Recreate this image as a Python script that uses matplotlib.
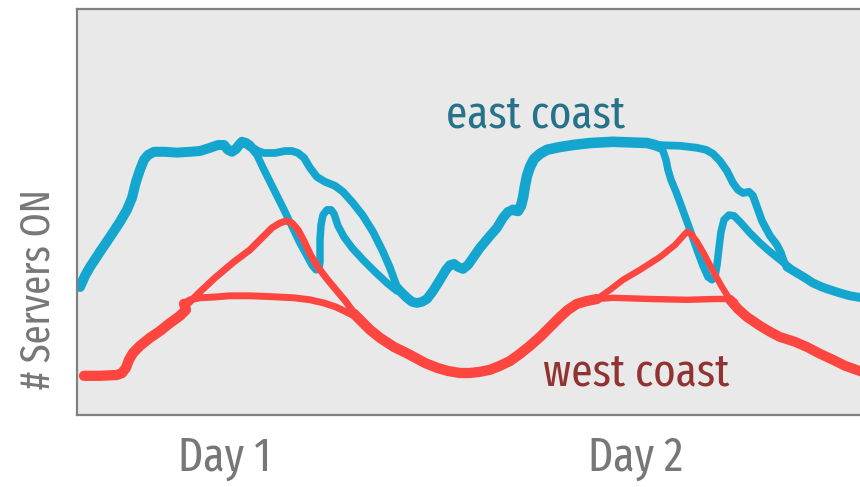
import matplotlib
matplotlib.use('Agg')
import matplotlib.pyplot as plt

# time axis in arbitrary units (0 = left edge), servers on a 0-100 scale
# east coast strokes
east_day1_x = [0.3, 0.8, 1.3, 2.3, 3.3, 4.3, 5.0, 5.5, 5.9, 6.3, 6.7, 7.1, 7.7, 8.8, 10.0, 11.3, 12.3,
               13.3, 14.1, 14.7, 15.1, 15.5, 15.9, 16.2, 16.5, 16.9, 17.3]
east_day1_y = [32.0, 34.8, 37.0, 40.8, 44.5, 48.3, 51.3, 54.3, 58.3, 61.3, 63.8, 65.0, 65.8, 65.8, 65.6,
               65.8, 66.0, 66.8, 67.5, 67.5, 66.3, 65.8, 66.5, 67.5, 68.3, 68.0, 67.3]

east_eve1_x = [17.3, 18.1, 18.7, 19.8, 20.8, 21.5, 22.1, 22.7, 23.3, 24.0, 24.8, 25.8, 26.6, 27.6, 28.6,
               29.6, 30.6, 31.3, 32.0]
east_eve1_y = [67.3, 66.0, 65.5, 65.5, 66.0, 66.0, 65.5, 64.3, 61.8, 59.5, 58.3, 57.3, 55.8, 53.0, 49.8,
               45.8, 40.8, 36.8, 32.0]

east_dip1_x = [17.0, 17.5, 18.0, 18.6, 19.3, 20.7, 22.3, 23.0, 23.5, 23.9, 24.2, 24.3, 24.3, 24.4, 24.6,
               25.0, 25.4, 25.7, 26.1, 26.7, 27.5, 28.6, 29.8, 31.0, 32.0]
east_dip1_y = [67.5, 66.5, 65.0, 61.8, 58.3, 51.3, 43.0, 39.8, 37.5, 36.3, 36.5, 38.3, 43.8, 47.5, 50.0,
               51.3, 51.3, 50.3, 47.3, 44.5, 41.8, 38.8, 35.8, 33.0, 31.0]

east_night_x = [32.0, 32.5, 33.0, 33.5, 34.0, 34.5, 35.0, 35.6, 36.3, 36.9, 37.3, 37.7, 38.1, 38.6, 39.1,
                39.6, 40.3, 41.3, 42.0, 42.6, 43.1, 43.6]
east_night_y = [31.8, 30.5, 29.3, 28.3, 28.0, 28.3, 29.0, 31.0, 33.8, 36.3, 37.5, 37.8, 37.0, 36.5, 37.5,
                39.3, 41.8, 44.8, 46.8, 49.3, 50.8, 51.3]

east_day2_x = [43.6, 44.1, 44.4, 44.6, 44.8, 45.0, 45.3, 45.7, 46.3, 47.0, 48.3, 49.6, 51.3, 53.6, 55.8,
               57.0, 57.8, 58.3]
east_day2_y = [51.3, 51.0, 52.3, 54.3, 57.3, 59.8, 62.0, 64.0, 65.3, 66.3, 67.0, 67.5, 68.0, 68.3, 68.1,
               68.0, 67.5, 67.0]

east_dip2_x = [58.3, 58.6, 58.9, 59.1, 59.4, 59.9, 60.5, 61.3, 62.0, 62.6, 63.1, 63.5, 63.8, 64.0, 64.2,
               64.4, 64.7, 65.2, 65.7, 66.3, 67.3, 68.3, 69.3, 70.3, 71.3]
east_dip2_y = [67.0, 66.0, 63.8, 61.3, 58.8, 55.8, 51.8, 46.3, 41.3, 37.3, 34.5, 33.8, 34.5, 37.5, 41.8,
               45.8, 48.8, 50.0, 49.8, 48.3, 45.5, 43.0, 40.8, 38.8, 36.8]

east_eve2_x = [57.8, 60.3, 62.0, 62.9, 63.6, 64.3, 65.0, 65.6, 66.1, 66.6, 67.2, 67.6, 68.0, 68.5, 69.3,
               70.0, 70.4, 70.7, 71.0]
east_eve2_y = [67.5, 67.3, 66.8, 66.3, 65.3, 63.5, 61.0, 58.0, 56.3, 55.5, 55.8, 54.8, 52.0, 48.5, 44.8,
               42.5, 40.5, 38.3, 37.0]

east_end_x = [71.0, 72.0, 72.8, 73.6, 74.5, 75.3, 76.3, 77.3, 78.5]
east_end_y = [37.0, 35.5, 34.3, 33.0, 32.0, 31.3, 30.5, 29.8, 29.3]

# west coast strokes
west_day1_x = [0.7, 2.3, 4.0, 4.5, 4.9, 5.2, 5.6, 6.3, 7.3, 8.3, 9.3, 10.3, 10.9, 10.7]
west_day1_y = [9.8, 9.8, 10.0, 10.5, 11.8, 13.8, 15.5, 17.3, 19.3, 21.0, 23.0, 24.8, 26.3, 27.8]

west_flat1_x = [10.6, 11.3, 12.3, 13.8, 15.3, 17.3, 19.3, 21.7, 23.3, 24.7, 25.9, 26.9, 27.7]
west_flat1_y = [27.8, 28.8, 29.3, 29.5, 29.8, 29.8, 29.6, 29.3, 28.8, 28.0, 27.0, 25.8, 24.8]

west_peak1_x = [11.1, 12.3, 13.8, 15.7, 17.3, 18.5, 19.5, 20.3, 20.9, 21.5, 22.1, 22.7, 23.3, 24.0, 25.0,
                26.0, 26.9, 27.7]
west_peak1_y = [27.8, 30.8, 34.3, 38.3, 41.3, 44.3, 46.8, 48.0, 48.5, 48.0, 46.3, 43.5, 40.3, 37.3, 34.0,
                31.0, 28.3, 25.5]

west_night_x = [27.7, 28.5, 29.3, 30.3, 31.7, 32.7, 33.7, 34.8, 36.0, 37.1, 38.3, 39.3, 40.3, 41.3, 42.3,
                43.3, 44.3, 45.3, 46.3, 47.3, 48.3, 49.1, 50.0, 51.0, 52.0]
west_night_y = [25.3, 23.3, 21.3, 19.3, 17.0, 15.8, 14.5, 13.0, 11.8, 11.0, 10.5, 10.5, 10.8, 11.3, 12.3,
                13.5, 15.3, 17.3, 19.5, 22.0, 24.5, 26.3, 27.8, 28.5, 29.0]

west_flat2_x = [52.0, 53.6, 57.3, 61.0, 63.8, 65.0, 65.8]
west_flat2_y = [29.0, 29.3, 29.0, 28.8, 29.0, 29.0, 28.3]

west_peak2_x = [52.0, 53.3, 54.6, 56.3, 58.3, 59.8, 60.7, 61.0, 61.4, 62.0, 62.7, 63.6, 64.5, 65.3]
west_peak2_y = [29.0, 31.3, 33.8, 36.3, 39.5, 42.5, 45.0, 45.8, 45.3, 43.3, 40.3, 36.0, 32.0, 28.8]

west_end_x = [65.3, 66.1, 67.0, 68.3, 69.3, 70.3, 71.8, 73.0, 74.3, 75.6, 76.8, 78.5]
west_end_y = [28.8, 26.5, 24.5, 22.3, 20.8, 19.5, 18.3, 17.0, 15.3, 13.8, 12.3, 10.8]

day_ticks = [14.8, 55.9]
day_labels = ['Day 1', 'Day 2']

BLUE = '#15a6d0'
RED = '#fe4641'
FONT = ['Fira Sans Extra Condensed', 'DejaVu Sans']

fig = plt.figure(figsize=(8.6, 4.87), dpi=100)
ax = fig.add_axes([77/860, 72/487, 783/860, 406/487])
ax.set_facecolor('#e9e9e9')

kw = dict(solid_capstyle='round', solid_joinstyle='round')
# blue strokes (thick main, thinner branches)
ax.plot(east_day1_x, east_day1_y, color=BLUE, lw=7.2, zorder=2, **kw)
ax.plot(east_eve1_x, east_eve1_y, color=BLUE, lw=5.6, zorder=2, **kw)
ax.plot(east_dip1_x, east_dip1_y, color=BLUE, lw=5.4, zorder=2, **kw)
ax.plot(east_night_x, east_night_y, color=BLUE, lw=7.0, zorder=2, **kw)
ax.plot(east_day2_x, east_day2_y, color=BLUE, lw=7.6, zorder=2, **kw)
ax.plot(east_dip2_x, east_dip2_y, color=BLUE, lw=5.4, zorder=2, **kw)
ax.plot(east_eve2_x, east_eve2_y, color=BLUE, lw=5.6, zorder=2, **kw)
ax.plot(east_end_x, east_end_y, color=BLUE, lw=6.4, zorder=2, **kw)

# red strokes
ax.plot(west_day1_x, west_day1_y, color=RED, lw=7.4, zorder=3, **kw)
ax.plot(west_flat1_x, west_flat1_y, color=RED, lw=5.0, zorder=3, **kw)
ax.plot(west_peak1_x, west_peak1_y, color=RED, lw=5.0, zorder=3, **kw)
ax.plot(west_night_x, west_night_y, color=RED, lw=7.4, zorder=3, **kw)
ax.plot(west_flat2_x, west_flat2_y, color=RED, lw=4.6, zorder=3, **kw)
ax.plot(west_peak2_x, west_peak2_y, color=RED, lw=4.6, zorder=3, **kw)
ax.plot(west_end_x, west_end_y, color=RED, lw=7.2, zorder=3, **kw)

ax.text(45.9, 72.0, 'east coast', color='#25728a', fontsize=33.5, family=FONT,
        ha='center', va='baseline')
ax.text(55.9, 7.5, 'west coast', color='#913330', fontsize=33.5, family=FONT,
        ha='center', va='baseline')

ax.set_xlim(0, 78.3)
ax.set_ylim(0, 101.5)
ax.set_yticks([])
ax.set_xticks(day_ticks)
ax.set_xticklabels(day_labels, family=FONT, fontsize=34, color='#777777')
ax.tick_params(axis='x', length=0, pad=14)

ax.text(-0.05, 0.31, '# Servers ON', transform=ax.transAxes, rotation=90,
        ha='center', va='center', fontsize=30, family=FONT, color='#777777')

for s in ['left', 'top', 'bottom']:
    ax.spines[s].set_color('#808080')
    ax.spines[s].set_linewidth(1.6)
ax.spines['right'].set_visible(False)

fig.savefig('out.png', dpi=100)
